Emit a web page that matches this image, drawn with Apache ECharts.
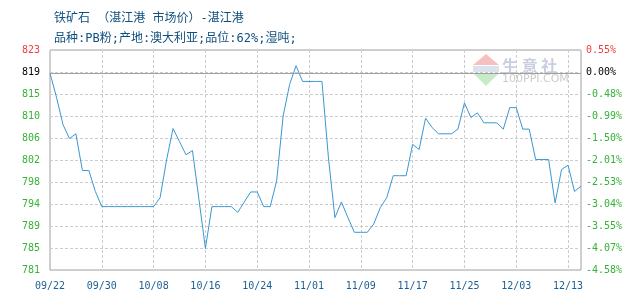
<!DOCTYPE html>
<html>
<head>
<meta charset="utf-8">
<script src="https://cdn.jsdelivr.net/npm/echarts/dist/echarts.min.js"></script>
<style>html,body{margin:0;padding:0;background:#fff;}#c{width:630px;height:300px;}</style>
</head>
<body>
<div id="c"></div>
<script>
var titleText = '铁矿石 （湛江港 市场价）-湛江港';
var subText = '品种:PB粉;产地:澳大利亚;品位:62%;湿吨;';

var dates = [
 '09/22','09/23','09/24','09/25','09/26','09/27','09/28','09/29','09/30',
 '10/01','10/02','10/03','10/04','10/05','10/06','10/07','10/08','10/09','10/10',
 '10/11','10/12','10/13','10/14','10/15','10/16','10/17','10/18','10/19','10/20',
 '10/21','10/22','10/23','10/24','10/25','10/26','10/27','10/28','10/29','10/30','10/31',
 '11/01','11/02','11/03','11/04','11/05','11/06','11/07','11/08','11/09','11/10',
 '11/11','11/12','11/13','11/14','11/15','11/16','11/17','11/18','11/19','11/20',
 '11/21','11/22','11/23','11/24','11/25','11/26','11/27','11/28','11/29','11/30',
 '12/01','12/02','12/03','12/04','12/05','12/06','12/07','12/08','12/11','12/12',
 '12/13','12/14','12/15'
];

var prices = [
 818.75, 814.2, 809.0, 806.3, 807.2, 800.2, 800.2, 796.2, 793.3,
 793.3, 793.3, 793.3, 793.3, 793.3, 793.3, 793.3, 793.3, 795.0, 802.2,
 808.2, 805.7, 803.2, 804.0, 794.7, 785.3, 793.3, 793.3, 793.3, 793.3,
 792.2, 794.2, 796.1, 796.1, 793.3, 793.3, 798.2, 810.6, 816.6, 820.2, 817.2,
 817.2, 817.2, 817.2, 802.6, 791.2, 794.2, 791.2, 788.4, 788.4, 788.4,
 790.0, 793.1, 795.0, 799.2, 799.2, 799.2, 805.2, 804.2, 810.2, 808.4,
 807.2, 807.2, 807.2, 808.1, 813.1, 810.3, 811.2, 809.3, 809.3, 809.3,
 808.1, 812.2, 812.2, 808.1, 808.1, 802.3, 802.3, 802.3, 794.0, 800.4,
 801.2, 796.2, 797.2
];

var leftTicks = ['781','785','789','794','798','802','806','810','815','819','823'];
var rightTicks = ['-4.58%','-4.07%','-3.55%','-3.04%','-2.53%','-2.01%','-1.50%','-0.99%','-0.48%','0.00%','0.55%'];

var yMin = 781.2, yMax = 823.2, yStep = 4.2;

function tickIndex(v){ return Math.round((v - yMin) / yStep); }
function tickColor(v){
  var i = tickIndex(v);
  if (i === 10) return '#f23c3c';
  if (i === 9) return '#000000';
  return '#36b336';
}

var titleFont = '"DejaVu Sans Mono", "Noto Sans CJK SC"';

var chart = echarts.init(document.getElementById('c'), null, {renderer:'canvas'});
chart.setOption({
  animation: false,
  backgroundColor: '#ffffff',
  title: [
    {text: titleText, left: 49, top: 8,
     textStyle: {fontFamily: titleFont, fontSize: 12, fontWeight: 'normal', color: '#0f4f7f'}},
    {text: subText, left: 49, top: 28,
     textStyle: {fontFamily: titleFont, fontSize: 12, fontWeight: 'normal', color: '#0f4f7f'}}
  ],
  graphic: [
    {type: 'polygon', silent: true, z: 0, shape: {points: [[486,54],[473,65],[499,65]]}, style: {fill: '#f6c0c0'}},
    {type: 'rect', silent: true, z: 0, shape: {x: 473, y: 66, width: 26, height: 6}, style: {fill: '#dde3ee'}},
    {type: 'polygon', silent: true, z: 0, shape: {points: [[473,73],[499,73],[486,86]]}, style: {fill: '#c6ecc6'}},
    {type: 'text', silent: true, z: 0, left: 502, top: 58,
     style: {text: '生 意 社', fill: '#c9cee0', font: 'bold 16px "Noto Sans CJK SC"'}},
    {type: 'text', silent: true, z: 0, left: 502, top: 74,
     style: {text: '100PPI.COM', fill: '#cccccc', font: '11px "DejaVu Sans"'}}
  ],
  grid: {left: 50, right: 49, top: 50, bottom: 30, show: true, borderColor: '#a0a0a0', borderWidth: 1, backgroundColor: 'transparent'},
  xAxis: {
    type: 'category',
    data: dates,
    boundaryGap: false,
    axisLine: {show: false},
    axisTick: {show: false},
    axisLabel: {interval: 7, margin: 11, color: '#1a5f96', fontFamily: 'DejaVu Sans Mono', fontSize: 10},
    splitLine: {show: true, interval: 7, lineStyle: {color: '#cccccc', type: [3,2], width: 1}}
  },
  yAxis: [
    {
      type: 'value', min: yMin, max: yMax, interval: yStep, position: 'left',
      axisLine: {show: false}, axisTick: {show: false},
      axisLabel: {
        margin: 28, align: 'left', fontFamily: 'DejaVu Sans Mono', fontSize: 10,
        formatter: function(v){ return leftTicks[tickIndex(v)] || ''; },
        color: function(v){ return tickColor(v); }
      },
      splitLine: {show: true, lineStyle: {color: '#cccccc', type: [3,2], width: 1}}
    },
    {
      type: 'value', min: yMin, max: yMax, interval: yStep, position: 'right',
      axisLine: {show: false}, axisTick: {show: false},
      axisLabel: {
        margin: 5, fontFamily: 'DejaVu Sans Mono', fontSize: 10,
        formatter: function(v){ return rightTicks[tickIndex(v)] || ''; },
        color: function(v){ return tickColor(v); }
      },
      splitLine: {show: false}
    }
  ],
  series: [{
    type: 'line',
    data: prices,
    yAxisIndex: 0,
    symbol: 'none',
    lineStyle: {color: '#3b97d3', width: 1},
    z: 3,
    markLine: {
      silent: true, symbol: 'none', label: {show: false},
      lineStyle: {color: '#a0a0a0', type: 'solid', width: 1},
      data: [{yAxis: prices[0]}]
    }
  }]
});
</script>
</body>
</html>
